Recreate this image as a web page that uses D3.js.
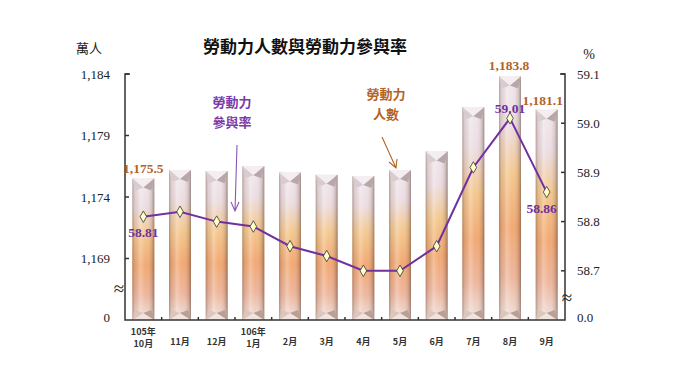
<!DOCTYPE html>
<html><head><meta charset="utf-8">
<script src="https://cdn.jsdelivr.net/npm/d3@7"></script>
<style>body{margin:0;background:#fff}svg{display:block}</style>
</head><body>
<svg id="c" width="680" height="382"></svg>
<script>
const months = ["10月","11月","12月","1月","2月","3月","4月","5月","6月","7月","8月","9月"];
const yearLabels = ["105年","","","106年","","","","","","","",""];
const labor = [1175.5,1176.2,1176.1,1176.5,1176.0,1175.8,1175.7,1176.2,1177.7,1181.3,1183.8,1181.1];
const rate = [58.81,58.82,58.80,58.79,58.75,58.73,58.70,58.70,58.75,58.91,59.01,58.86];
const leftTicks = [1164,1169,1174,1179,1184];
const leftTickText = ["0","1,169","1,174","1,179","1,184"];
const rightTicks = [58.6,58.7,58.8,58.9,59.0,59.1];
const rightTickText = ["0.0","58.7","58.8","58.9","59.0","59.1"];
const laborLabelIdx = [0,10,11];
const rateLabelIdx = [0,10,11];

const svg = d3.select("#c");
const X0=125, X1=565, YT=74, YB=320;
const x = d3.scaleBand().domain(months).range([X0,X1]).paddingInner(0.4).paddingOuter(0.2);
const yL = d3.scaleLinear().domain([1164,1184]).range([YB,YT]);
const yR = d3.scaleLinear().domain([58.6,59.1]).range([YB,YT]);
const serif = "'Liberation Serif','DejaVu Serif',serif";
const cjk = "'Noto Sans CJK TC','Noto Sans CJK SC',sans-serif";

const defs = svg.append("defs");
const gv = defs.append("linearGradient").attr("id","gv").attr("x1",0).attr("y1",0).attr("x2",0).attr("y2",1);
[[0,"#f0e8ee"],[0.2,"#ecdde2"],[0.4,"#f4c88e"],[0.62,"#f2a872"],[0.82,"#eeb69c"],[1,"#efe2de"]]
 .forEach(([o,c])=>gv.append("stop").attr("offset",o).attr("stop-color",c));
const gh = defs.append("linearGradient").attr("id","gh").attr("x1",0).attr("y1",0).attr("x2",1).attr("y2",0);
[[0,"#6b4a3a",0.45],[0.12,"#8a6a5a",0.15],[0.35,"#ffffff",0.25],[0.6,"#ffffff",0],[0.88,"#6b4a3a",0.2],[1,"#4a3028",0.5]]
 .forEach(([o,c,a])=>gh.append("stop").attr("offset",o).attr("stop-color",c).attr("stop-opacity",a));

// bars
const bw = x.bandwidth();
const bars = svg.append("g");
months.forEach((m,i)=>{
  const x0 = x(m), x1 = x0+bw, xc = x0+bw/2, yt = yL(labor[i]), yb = YB;
  const g = bars.append("g");
  g.append("rect").attr("x",x0).attr("y",yt).attr("width",bw).attr("height",yb-yt).attr("fill","url(#gv)");
  g.append("rect").attr("x",x0).attr("y",yt).attr("width",bw).attr("height",yb-yt).attr("fill","url(#gh)");
  const cap = 9;
  g.append("path").attr("d",`M${x0},${yt}L${x1},${yt}L${xc},${yt+cap}Z`).attr("fill","#f4eef0");
  g.append("path").attr("d",`M${x0},${yt}L${xc},${yt+cap}L${x0+3},${yt+cap+3}Z`).attr("fill","#d9ccd0");
  g.append("path").attr("d",`M${x1},${yt}L${xc},${yt+cap}L${x1-3},${yt+cap+3}Z`).attr("fill","#b9a6a8");
  g.append("path").attr("d",`M${x0},${yb}L${x1},${yb}L${xc},${yb-7}Z`).attr("fill","#f1e4de");
  g.append("path").attr("d",`M${x0},${yb}L${xc},${yb-7}L${x0+3},${yb-10}Z`).attr("fill","#dcc6bc");
  g.append("path").attr("d",`M${x1},${yb}L${xc},${yb-7}L${x1-3},${yb-10}Z`).attr("fill","#b8a096");
});

// axes
const ax = svg.append("g").attr("stroke","#333").attr("stroke-width",1.5).attr("fill","none");
ax.append("path").attr("d",`M${X0+5},${YT}H${X0}V${YB}H${X1}V${YT}H${X1-5}`);
leftTicks.slice(1).forEach(t=>ax.append("path").attr("d",`M${X0},${yL(t)}h4`));
rightTicks.slice(1).forEach(t=>ax.append("path").attr("d",`M${X1},${yR(t)}h-4`));
months.slice(1).forEach(m=>{const bx = x(m)-x.step()*x.paddingInner()/2; ax.append("path").attr("d",`M${bx},${YB}v-3`);});

const lt = svg.append("g").attr("font-family",serif).attr("font-size",13).attr("fill","#222");
leftTicks.forEach((t,i)=>lt.append("text").attr("x",110).attr("y",yL(t)+(i===0?-3:0)).attr("dy","0.35em").attr("text-anchor","end").text(leftTickText[i]));
rightTicks.forEach((t,i)=>lt.append("text").attr("x",577).attr("y",yR(t)+(i===0?-3:0)).attr("dy","0.35em").attr("text-anchor","start").text(rightTickText[i]));
lt.append("text").attr("x",119).attr("y",295).attr("text-anchor","middle").attr("font-size",19).text("≈");
lt.append("text").attr("x",567).attr("y",304).attr("text-anchor","middle").attr("font-size",19).text("≈");

svg.append("text").attr("x",89).attr("y",53).attr("text-anchor","middle").attr("font-family",cjk).attr("font-size",13).attr("fill","#222").text("萬人");
svg.append("text").attr("x",589).attr("y",59).attr("text-anchor","middle").attr("font-family",serif).attr("font-size",14).attr("fill","#222").text("%");
svg.append("text").attr("x",305).attr("y",53).attr("text-anchor","middle").attr("font-family",cjk).attr("font-weight","bold").attr("font-size",17).attr("fill","#111").text("勞動力人數與勞動力參與率");

// x labels
const xl = svg.append("g").attr("font-family",cjk).attr("font-size",9).attr("font-weight","bold").attr("fill","#333").attr("text-anchor","middle");
months.forEach((m,i)=>{
  const cx = x(m)+bw/2;
  if (yearLabels[i]) {
    xl.append("text").attr("x",cx).attr("y",335).text(yearLabels[i]);
    xl.append("text").attr("x",cx).attr("y",347).text(m);
  } else {
    xl.append("text").attr("x",cx).attr("y",345).text(m);
  }
});

// line
const line = d3.line().x((d,i)=>x(months[i])+bw/2).y(d=>yR(d));
svg.append("path").datum(rate).attr("d",line).attr("fill","none").attr("stroke","#7030a0").attr("stroke-width",2);
svg.append("g").selectAll("path").data(rate).join("path")
  .attr("d",d3.symbol(d3.symbolDiamond, 38))
  .attr("transform",(d,i)=>`translate(${x(months[i])+bw/2},${yR(d)})`)
  .attr("fill","#ffffc8").attr("stroke","#333").attr("stroke-width",0.8);

// value labels
const vl = svg.append("g").attr("font-family",serif).attr("font-weight","bold").attr("font-size",13.5).attr("text-anchor","middle");
const laborOff = {0:[0,-6],10:[-1,-6],11:[-4,-5]};
laborLabelIdx.forEach(i=>vl.append("text").attr("x",x(months[i])+bw/2+laborOff[i][0]).attr("y",yL(labor[i])+laborOff[i][1]).attr("fill","#b4631f").text(d3.format(",.1f")(labor[i])));
const rateOff = {0:[0,20],10:[0,-5],11:[-5,21]};
rateLabelIdx.forEach(i=>vl.append("text").attr("x",x(months[i])+bw/2+rateOff[i][0]).attr("y",yR(rate[i])+rateOff[i][1]).attr("fill","#7030a0").text(rate[i].toFixed(2)));

// annotations
const an = svg.append("g").attr("font-family",cjk).attr("font-weight","bold").attr("font-size",13).attr("text-anchor","middle");
an.append("text").attr("x",232).attr("y",107).attr("fill","#7a3aa8").text("勞動力");
an.append("text").attr("x",232).attr("y",127).attr("fill","#7a3aa8").text("參與率");
an.append("text").attr("x",386).attr("y",99).attr("fill","#b4631f").text("勞動力");
an.append("text").attr("x",386).attr("y",119).attr("fill","#b4631f").text("人數");
svg.append("path").attr("d","M237,145L235,211M231,202L235,211L239,202").attr("fill","none").attr("stroke","#8a55b8").attr("stroke-width",1.1);
svg.append("path").attr("d","M382,137L396,168M389,162L396,168L397,159").attr("fill","none").attr("stroke","#b4631f").attr("stroke-width",1.1);
</script>
</body></html>
